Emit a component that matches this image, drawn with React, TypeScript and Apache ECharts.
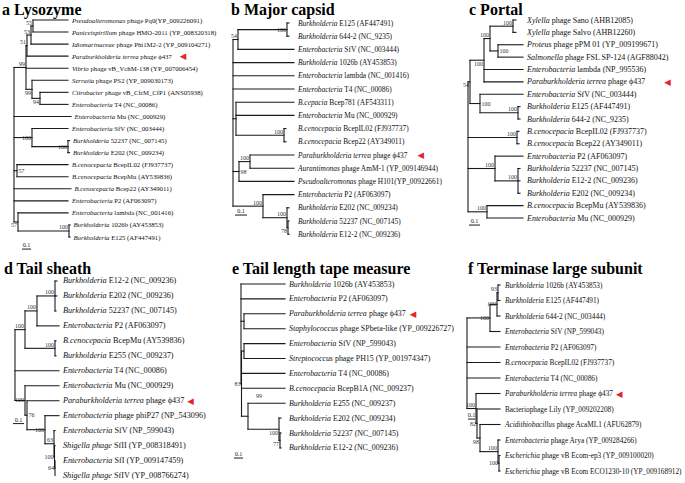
import React, { useEffect, useRef } from 'react';
import * as echarts from 'echarts';

// ---------------- data ----------------
// Each tree: internal node = [depth, support(:labelPos), ...children]; a child is a leaf index or a node.
// Depths are branch-length depths (panel units).

// a Lysozyme
const lysozymeLeaves = [
  '*Pseudoalteromonas* phage Pq0(YP_009226091)',
  '*Paniceispirillum* phage HMO-2011 (YP_008320318)',
  '*Idiomarinaceae* phage Phi1M2-2 (YP_009104271)',
  '*Paraburkholderia terrea* phage ϕ437',
  '*Vibrio* phage vB_VchM-138 (YP_007006454)',
  '*Serratia* phage PS2 (YP_009030173)',
  '*Citrobacter* phage vB_CfrM_CfP1 (ANS05938)',
  '*Enterobacteria* T4 (NC_00086)',
  '*Enterobacteria* Mu (NC_000929)',
  '*Enterobacteria* SfV (NC_003444)',
  '*Burkholderia* 52237 (NC_007145)',
  '*Burkholderia* E202 (NC_009234)',
  '*B.cenocepacia* BcepIL02 (FJ937737)',
  '*B.cenocepacia* BcepMu (AY539836)',
  '*B.cenocepacia* Bcep22 (AY349011)',
  '*Enterobacteria* P2 (AF063097)',
  '*Enterobacteria* lambda (NC_001416)',
  '*Burkholderia* 1026b (AY453853)',
  '*Burkholderia* E125 (AF447491)',
];
const lysozymeTips = [68, 68, 68, 68, 68, 68, 68, 68, 71, 68, 69.5, 69.5, 68, 68, 71, 68, 68, 70, 70];
const lysozymeTree: any[] = [14, '',
  [26, '99', [27, '51', [31, '53', [33, '55', 0, 1], 2], 3], 4, [32, '99:lb', 5, [40, '94:lb', 6, 7]]],
  8,
  [32, '100:l', 9, [68, '100:l', 10, 11]],
  [17, '57:r', 12, 13],
  14, 15,
  [18, '57:lb', 16, [69, '100', 17, 18]],
];

// b Major capsid
const capsidLeaves = [
  '*Burkholderia* E125 (AF447491)',
  '*Burkholderia* 644-2 (NC_9235)',
  '*Enterobacteria* SfV (NC_003444)',
  '*Burkholderia* 1026b (AY453853)',
  '*Enterobacteria* lambda (NC_001416)',
  '*Enterobacteria* T4 (NC_00086)',
  '*B.cepacia* Bcep781 (AF543311)',
  '*Enterobacteria* Mu (NC_000929)',
  '*B.cenocepacia* BcepIL02 (FJ937737)',
  '*B.cenocepacia* Bcep22 (AY349011)',
  '*Paraburkholderia terrea* phage ϕ437',
  '*Aurantimonas* phage AmM-1 (YP_009146944)',
  '*Pseudoalteromonas* phage H101(YP_00922661)',
  '*Enterobacteria* P2 (AF063097)',
  '*Burkholderia* E202 (NC_009234)',
  '*Burkholderia* 52237 (NC_007145)',
  '*Burkholderia* E12-2 (NC_009236)',
];
const capsidTips = [61, 61, 66, 66, 66, 66, 66, 66, 58, 58, 66, 66, 66, 66, 61, 61, 61];
const capsidTree: any[] = [5, '',
  [10, '54', [59, '100:l', 0, 1], 2],
  3, 4, 5,
  [8, '', 6, 7, [56, '100', 8, 9]],
  [11, '98:r', [22, '100', 10, 11], 12],
  [35, '100', 13, [59, '100', 14, [60, '78:lb', 15, 16]]],
];

// c Portal
const portalLeaves = [
  '*Xylella* phage Sano (AHB12085)',
  '*Xylella* phage Salvo (AHB12260)',
  '*Proteus* phage pPM 01 (YP_009199671)',
  '*Salmonella* phage FSL SP-124 (AGF88042)',
  '*Enterobacteria* lambda (NP_995536)',
  '*Paraburkholderia terrea* phage ϕ437',
  '*Enterobacteria* SfV (NC_003444)',
  '*Burkholderia* E125 (AF447491)',
  '*Burkholderia* 644-2 (NC_9235)',
  '*B.cenocepacia* BcepIL02 (FJ937737)',
  '*B.cenocepacia* Bcep22 (AY349011)',
  '*Enterobacteria* P2 (AF063097)',
  '*Burkholderia* 52237 (NC_007145)',
  '*Burkholderia* E12-2 (NC_009236)',
  '*Burkholderia* E202 (NC_009234)',
  '*B.cenocepacia* BcepMu (AY539836)',
  '*Enterobacteria* Mu (NC_000929)',
];
const portalTips = [60, 60, 67, 67, 67, 67, 67, 64, 64, 63, 63, 67, 64, 64, 64, 67, 67];
const portalTree: any[] = [12, '',
  [14, '54:lb',
    [28, '100:lb', [34, '100', [57, '100', 0, 1], [42, '100:r', 2, 3]], 4, 5],
    [24, '100:r', 6, [62, '100', 7, 8]]],
  [61, '100', 9, 10],
  [39, '100', 11, [62, '100', 12, 13, 14]],
  [31, '100', 15, 16],
];

// d Tail sheath
const sheathLeaves = [
  '*Burkholderia* E12-2 (NC_009236)',
  '*Burkholderia* E202 (NC_009236)',
  '*Burkholderia* 52237 (NC_007145)',
  '*Enterobacteria* P2 (AF063097)',
  '*B.cenocepacia* BcepMu (AY539836)',
  '*Burkholderia* E255 (NC_009237)',
  '*Enterobacteria* T4 (NC_00086)',
  '*Enterobacteria* Mu (NC_000929)',
  '*Paraburkholderia terrea* phage ϕ437',
  '*Enterobacteria* phage phiP27 (NP_543096)',
  '*Enterobacteria* SfV (NP_599043)',
  '*Shigella phage* SfII (YP_008318491)',
  '*Enterobacteria* SfI (YP_009147459)',
  '*Shigella phage* SfIV (YP_008766274)',
];
const sheathTips = [57, 57, 56, 59, 56, 56, 59, 59, 59, 59, 55, 55, 55, 55];
const sheathTree: any[] = [15, '',
  [25, '100', [37, '100', [55, '100', 0, 1, 2], 3], [55, '100', 4, 5]],
  6,
  [25, '100:l', 7, [27, '76:r', 8, [45, '100:l', 9, [54, '63', 10, [54.5, '100:l', 11, [55, '64:l', 12, 13]]]]]],
];

// e Tail length tape measure
const tapeLeaves = [
  '*Burkholderia* 1026b (AY453853)',
  '*Enterobacteria* P2 (AF063097)',
  '*Paraburkholderia terrea* phage ϕ437',
  '*Staphylococcus* phage SPbeta-like (YP_009226727)',
  '*Enterobacteria* SfV (NP_599043)',
  '*Streptococcus* phage PH15 (YP_001974347)',
  '*Enterobacteria* T4 (NC_00086)',
  '*B.cenocepacia* BcepB1A (NC_009237)',
  '*Burkholderia* E255 (NC_009237)',
  '*Burkholderia* E202 (NC_009234)',
  '*Burkholderia* 52237 (NC_007145)',
  '*Burkholderia* E12-2 (NC_009236)',
];
const tapeTips = [57, 57, 57, 57, 57, 57, 57, 57, 57, 53, 53, 53];
const tapeTree: any[] = [13, '',
  0, 1,
  [16, '', 2, 3],
  [13.5, '83:l', [16, '', 4, 5], 6, 7, [20, '99:u', 8, [51, '100:lb', 9, [52, '77:lb', 10, 11]]]],
];

// f Terminase large subunit
const terminaseLeaves = [
  '*Burkholderia* 1026b (AY453853)',
  '*Burkholderia* E125 (AF447491)',
  '*Burkholderia* 644-2 (NC_003444)',
  '*Enterobacteria* SfV (NP_599043)',
  '*Enterobacteria* P2 (AF063097)',
  '*B.cenocepacia* BcepIL02 (FJ937737)',
  '*Enterobacteria* T4 (NC_00086)',
  '*Paraburkholderia terrea* phage ϕ437',
  'Bacteriophage Lily (YP_009202208)',
  '*Acidithiobacillus* phage AcaML1 (AFU62879)',
  '*Enterobacteria* phage Arya (YP_009284266)',
  '*Escherichia* phage vB Ecom-ep3 (YP_009100020)',
  '*Escherichia* phage vB Ecom ECO1230-10 (YP_009168912)',
];
const terminaseTips = [44, 44, 44, 44, 44, 44, 44, 44, 44, 44, 44, 44, 44];
const terminaseTree: any[] = [11, '',
  [34, '100:l', [41, '100:l', [42, '93', 0, 1], 2], 3],
  4, 5, 6,
  [20, '100', 7, [21, '82:l', 8, [24, '98:lb', 9, [42, '100', 10, [43, '100:l', 11, 12]]]]],
];

const panelTitles = ['a Lysozyme', 'b Major capsid', 'c Portal', 'd Tail sheath', 'e Tail length tape measure', 'f Terminase large subunit'];
const scaleLabel = '0.1';

// ---------------- layout / style ----------------
const SERIF = 'Liberation Serif, Times New Roman, serif';
const LINE = '#1a1a1a';
const TEXT = '#111';
const RED = '#e3262b';
const FS = 10; // base font size; labels are scaled to their panel size
const SUP = 6; // support value size

type Panel = {
  leaves: string[]; tips: number[]; tree: any[];
  left: number; width: number; y0: number; step: number;
  labelX: number; gap: number; font: number; arrowGap: number;
  scale: { x: number; len: number; row: number };
  title: string; titleLeft: number; titleTop: number;
};

const panels: Panel[] = [
  { leaves: lysozymeLeaves, tips: lysozymeTips, tree: lysozymeTree, left: 0, width: 228, y0: 20, step: 12.056,
    labelX: 72, gap: 3.5, font: 6.75, arrowGap: 8, scale: { x: 22, len: 9, row: 19.0 }, title: panelTitles[0], titleLeft: 2, titleTop: 1 },
  { leaves: capsidLeaves, tips: capsidTips, tree: capsidTree, left: 228, width: 228, y0: 23, step: 13.2,
    labelX: 70, gap: 4, font: 7.4, arrowGap: 10, scale: { x: 7, len: 12, row: 14.55 }, title: panelTitles[1], titleLeft: 231, titleTop: 1 },
  { leaves: portalLeaves, tips: portalTips, tree: portalTree, left: 456, width: 229, y0: 20, step: 12.375,
    labelX: 71, gap: 4, font: 8.0, arrowGap: 19, scale: { x: 13, len: 11, row: 16.57 }, title: panelTitles[2], titleLeft: 469, titleTop: 1 },
  { leaves: sheathLeaves, tips: sheathTips, tree: sheathTree, left: 0, width: 228, y0: 281, step: 15,
    labelX: 63, gap: 4, font: 8.2, arrowGap: 3, scale: { x: 13, len: 11, row: 9.53 }, title: panelTitles[3], titleLeft: 4, titleTop: 260 },
  { leaves: tapeLeaves, tips: tapeTips, tree: tapeTree, left: 228, width: 228, y0: 284, step: 14.9,
    labelX: 61, gap: 4, font: 7.9, arrowGap: 4, scale: { x: 6, len: 9, row: 11.68 }, title: panelTitles[4], titleLeft: 232, titleTop: 260 },
  { leaves: terminaseLeaves, tips: terminaseTips, tree: terminaseTree, left: 456, width: 229, y0: 285, step: 15.5,
    labelX: 49, gap: 4, font: 7.3, arrowGap: 3, scale: { x: 12, len: 7, row: 8.65 }, title: panelTitles[5], titleLeft: 468, titleTop: 260 },
];

type El =
  | { t: 'h'; x1: number; x2: number; y: number }
  | { t: 'v'; x: number; y1: number; y2: number }
  | { t: 'leaf'; i: number; x: number; y: number }
  | { t: 'sup'; x: number; y: number; fy: number; text: string; pos: string }
  | { t: 'bar'; x: number; len: number; row: number };

function layoutTree(p: Panel): El[] {
  const els: El[] = [];
  const walk = (node: any): { x: number; y: number } => {
    if (typeof node === 'number') {
      const x = p.tips[node];
      els.push({ t: 'leaf', i: node, x, y: node });
      return { x, y: node };
    }
    const [x, sup, ...kids] = node;
    const pts = kids.map(walk);
    const y1 = pts[0].y;
    const y2 = pts[pts.length - 1].y;
    const y = (y1 + y2) / 2;
    els.push({ t: 'v', x, y1, y2 });
    pts.forEach((c: any) => els.push({ t: 'h', x1: x, x2: c.x, y: c.y }));
    if (sup) {
      const [text, pos] = String(sup).split(':');
      els.push({ t: 'sup', x, y, fy: y1, text, pos: pos || 'la' });
    }
    return { x, y };
  };
  walk(p.tree);
  els.push({ t: 'bar', ...p.scale });
  return els;
}

function richLabel(s: string): string {
  const parts = s.split('*');
  let out = '';
  parts.forEach((seg, k) => {
    if (!seg) return;
    out += k % 2 === 1 ? `{i|${seg}}` : `{n|${seg}}`;
  });
  if (s.indexOf('ϕ437') >= 0) out += '{g| }{r|◀}';
  return out;
}

function richStyles(p: Panel) {
  const s = p.font / FS;
  return {
    i: { fontStyle: 'italic', fontSize: FS, fontFamily: SERIF, fill: TEXT },
    n: { fontStyle: 'normal', fontSize: FS, fontFamily: SERIF, fill: TEXT },
    g: { width: p.arrowGap / s, fontSize: FS, fontFamily: SERIF, fill: TEXT },
    r: { fontSize: 8.5 / s, fontFamily: 'DejaVu Sans, sans-serif', fill: RED, verticalAlign: 'middle' },
  };
}

function buildOption() {
  const grid: any[] = [];
  const xAxis: any[] = [];
  const yAxis: any[] = [];
  const series: any[] = [];
  const title: any[] = [];

  panels.forEach((p, k) => {
    const n = p.leaves.length;
    grid.push({ left: p.left, width: p.width, top: p.y0 - p.step / 2, height: p.step * n });
    xAxis.push({ gridIndex: k, type: 'value', min: 0, max: p.width, show: false });
    yAxis.push({ gridIndex: k, type: 'value', min: -0.5, max: n - 0.5, inverse: true, show: false });
    title.push({
      text: p.title, left: p.titleLeft, top: p.titleTop, padding: 0,
      textStyle: { fontFamily: SERIF, fontSize: 16, fontWeight: 'bold', color: '#000' },
    });
    const els = layoutTree(p);
    const rich = richStyles(p);
    const ls = p.font / FS;
    const ss = SUP / FS;
    series.push({
      type: 'custom',
      xAxisIndex: k,
      yAxisIndex: k,
      silent: true,
      clip: false,
      data: els.map((_, i) => [i, 0]),
      renderItem: (params: any, api: any) => {
        const e = els[params.dataIndex];
        if (e.t === 'h') {
          const a = api.coord([e.x1, e.y]);
          const b = api.coord([e.x2, e.y]);
          return { type: 'line', shape: { x1: a[0], y1: a[1], x2: b[0], y2: b[1] }, style: { stroke: LINE, lineWidth: 1.1, lineCap: 'square' } };
        }
        if (e.t === 'v') {
          const a = api.coord([e.x, e.y1]);
          const b = api.coord([e.x, e.y2]);
          return { type: 'line', shape: { x1: a[0], y1: a[1], x2: b[0], y2: b[1] }, style: { stroke: LINE, lineWidth: 1.1, lineCap: 'square' } };
        }
        if (e.t === 'leaf') {
          const c = api.coord([Math.max(e.x + p.gap, p.labelX), e.y]);
          return {
            type: 'text', x: c[0], y: c[1], scaleX: ls, scaleY: ls,
            style: {
              text: richLabel(p.leaves[e.i]), rich,
              align: 'left', verticalAlign: 'middle',
              fontSize: FS, fontFamily: SERIF, fill: TEXT,
            },
          };
        }
        if (e.t === 'sup') {
          const c = api.coord([e.x, e.y]);
          let x = c[0] - 1;
          let y = c[1];
          let align = 'right';
          let va = 'bottom';
          if (e.pos === 'la') { y = c[1] - 0.5; }
          else if (e.pos === 'lb') { y = c[1] + 0.5; va = 'top'; }
          else if (e.pos === 'l') { va = 'middle'; }
          else if (e.pos === 'r') { x = c[0] + 1.5; align = 'left'; va = 'middle'; }
          else if (e.pos === 'u') {
            const f = api.coord([e.x, e.fy]);
            x = c[0] + 8; y = f[1] - 4; align = 'left'; va = 'bottom';
          }
          return {
            type: 'text', x, y, scaleX: ss, scaleY: ss,
            style: { text: e.text, align, verticalAlign: va, fontSize: FS, fontFamily: SERIF, fill: '#333' },
          };
        }
        // scale bar
        const a = api.coord([e.x, e.row]);
        const b = api.coord([e.x + e.len, e.row]);
        return {
          type: 'group',
          children: [
            { type: 'line', shape: { x1: a[0], y1: a[1], x2: b[0], y2: b[1] }, style: { stroke: LINE, lineWidth: 1 } },
            {
              type: 'text', x: (a[0] + b[0]) / 2, y: a[1] - 1, scaleX: 0.62, scaleY: 0.62,
              style: { text: scaleLabel, align: 'center', verticalAlign: 'bottom', fontSize: FS, fontFamily: SERIF, fill: '#222' },
            },
          ],
        };
      },
    });
  });

  return { animation: false, backgroundColor: '#fff', title, grid, xAxis, yAxis, series };
}

export default function App() {
  const ref = useRef<HTMLDivElement>(null);
  useEffect(() => {
    if (!ref.current) return;
    const chart = echarts.init(ref.current, undefined, { renderer: 'svg' });
    chart.setOption(buildOption() as any);
    return () => chart.dispose();
  }, []);
  return (
    <div
      ref={ref}
      style={{ position: 'fixed', left: 0, top: 0, width: 685, height: 483, background: '#fff' }}
    />
  );
}
